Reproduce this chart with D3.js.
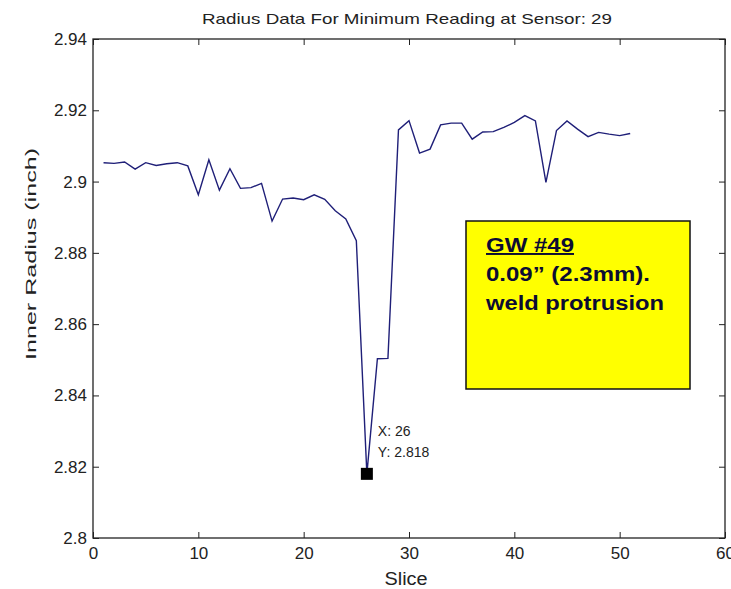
<!DOCTYPE html>
<html><head><meta charset="utf-8">
<script src="https://cdn.jsdelivr.net/npm/d3@7"></script>
<style>body{margin:0;background:#fff}svg{display:block}text{font-family:"Liberation Sans",Arial,sans-serif}</style>
</head><body>
<script>
const slices = d3.range(1, 52);
const radius = [2.9053,2.9051,2.9055,2.9035,2.9053,2.9045,2.9050,2.9053,2.9044,2.8963,
  2.9061,2.8976,2.9036,2.8981,2.8983,2.8995,2.8889,2.8951,2.8954,2.8949,
  2.8963,2.8950,2.8918,2.8895,2.8834,2.8180,2.8503,2.8504,2.9145,2.9171,
  2.9080,2.9091,2.9159,2.9164,2.9164,2.9119,2.9139,2.9140,2.9152,2.9166,
  2.9185,2.9170,2.8998,2.9143,2.9170,2.9147,2.9126,2.9138,2.9133,2.9129,2.9135];
const xTicks = [0,10,20,30,40,50,60];
const yTicks = [2.8,2.82,2.84,2.86,2.88,2.9,2.92,2.94];
const tip = {x: 26, y: 2.818};
const title = "Radius Data For Minimum Reading at Sensor: 29";
const noteLines = ["GW #49", "0.09\u201d (2.3mm).", "weld protrusion"];
const noteWidths = [88, 164, 178];

const W = 731, H = 589;
const svg = d3.select("body").append("svg").attr("width", W).attr("height", H);
const L = 93, R = 725, T = 39, B = 538;
const x = d3.scaleLinear().domain([0, 60]).range([L, R]);
const y = d3.scaleLinear().domain([2.8, 2.94]).range([B, T]);

svg.append("rect").attr("x", L).attr("y", T).attr("width", R - L).attr("height", B - T)
  .attr("fill", "#fff").attr("stroke", "#222").attr("stroke-width", 1.3);

const fmtY = d => String(+d.toFixed(2));
const tickStyle = g => { g.select(".domain").remove(); g.selectAll("line").attr("stroke", "#222"); };
svg.append("g").attr("transform", `translate(0,${B})`)
  .call(d3.axisBottom(x).tickValues(xTicks).tickSize(-6).tickPadding(9).tickFormat(d3.format("d")))
  .call(tickStyle)
  .call(g => g.selectAll("text").attr("font-size", 17).attr("fill", "#222"));
svg.append("g").attr("transform", `translate(0,${T})`)
  .call(d3.axisTop(x).tickValues(xTicks).tickSize(-6).tickFormat(""))
  .call(tickStyle);
svg.append("g").attr("transform", `translate(${L},0)`)
  .call(d3.axisLeft(y).tickValues(yTicks).tickSize(-6).tickPadding(6).tickFormat(fmtY))
  .call(tickStyle)
  .call(g => g.selectAll("text").attr("font-size", 17).attr("fill", "#222"));
svg.append("g").attr("transform", `translate(${R},0)`)
  .call(d3.axisRight(y).tickValues(yTicks).tickSize(-6).tickFormat(""))
  .call(tickStyle);

svg.append("path").datum(slices.map((s, i) => [s, radius[i]]))
  .attr("fill", "none").attr("stroke", "#1f1f78").attr("stroke-width", 1.4)
  .attr("d", d3.line().x(d => x(d[0])).y(d => y(d[1])));

svg.append("rect").attr("x", x(tip.x) - 6).attr("y", y(tip.y) - 6).attr("width", 12).attr("height", 12).attr("fill", "#000");
svg.append("text").attr("x", x(tip.x) + 11).attr("y", y(tip.y) - 38).attr("font-size", 14).attr("fill", "#222").text("X: " + tip.x);
svg.append("text").attr("x", x(tip.x) + 11).attr("y", y(tip.y) - 17).attr("font-size", 14).attr("fill", "#222").text("Y: " + tip.y);

svg.append("text").attr("x", 407).attr("y", 24).attr("text-anchor", "middle").attr("font-size", 15)
  .attr("textLength", 410).attr("lengthAdjust", "spacingAndGlyphs").attr("fill", "#222").text(title);
svg.append("text").attr("x", 406).attr("y", 585).attr("text-anchor", "middle").attr("font-size", 18)
  .attr("textLength", 43).attr("lengthAdjust", "spacingAndGlyphs").attr("fill", "#222").text("Slice");
svg.append("text").attr("transform", `translate(36,254) rotate(-90)`).attr("text-anchor", "middle").attr("font-size", 15)
  .attr("textLength", 212).attr("lengthAdjust", "spacingAndGlyphs").attr("fill", "#222").text("Inner Radius (inch)");

svg.append("rect").attr("x", 466).attr("y", 221).attr("width", 224).attr("height", 168)
  .attr("fill", "#ffff00").attr("stroke", "#111").attr("stroke-width", 1.5);
const nt = svg.append("g").attr("font-size", 19.5).attr("font-weight", "bold").attr("fill", "#0c0c33");
noteLines.forEach((s, i) => {
  nt.append("text").attr("x", 486).attr("y", 252 + i * 29)
    .attr("textLength", noteWidths[i]).attr("lengthAdjust", "spacingAndGlyphs")
    .attr("text-decoration", i === 0 ? "underline" : null).text(s);
});
</script>
</body></html>
